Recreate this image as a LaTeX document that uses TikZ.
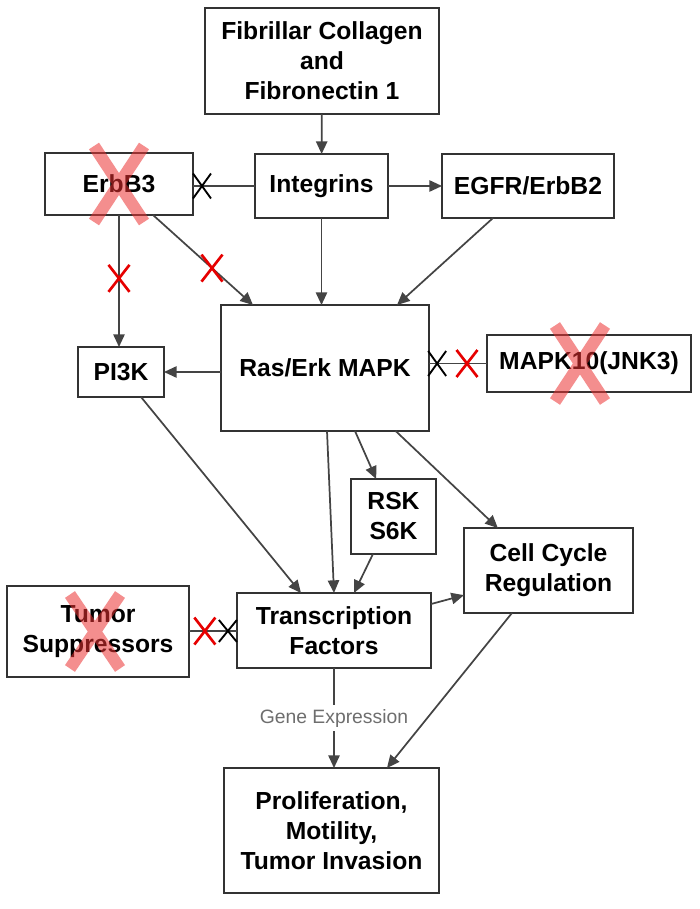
\documentclass[tikz,border=0pt]{standalone}
\usepackage{fontspec}
\setmainfont{Liberation Sans}
\usetikzlibrary{arrows.meta,calc}

\tikzset{every picture/.style={line width=0.75pt}}
\tikzset{
  box/.style={draw={rgb, 255:red, 51; green, 51; blue, 51 }, line width=1.5pt, fill=white, inner sep=0pt, outer sep=0pt, align=center, font=\fontsize{18.5}{22.5}\selectfont\bfseries},
  arr/.style={draw={rgb, 255:red, 68; green, 68; blue, 68 }, line width=1.3pt, -{Triangle[length=9.5pt,width=8.5pt]}},
  inh/.style={draw={rgb, 255:red, 68; green, 68; blue, 68 }, line width=1.3pt},
  redx/.style={color={rgb, 255:red, 230; green, 0; blue, 0 }, line width=2pt},
  blackx/.style={color=black, line width=1.4pt},
  bigx/.style={color={rgb, 255:red, 236; green, 50; blue, 50 }, draw opacity=0.55, line width=9pt},
  gexp/.style={fill=white, inner sep=3pt, text={rgb, 255:red, 110; green, 110; blue, 110 }, font=\fontsize{14.5}{16}\selectfont}
}
\newcommand{\crossat}[4]{\draw[#1, shift={(#2)}] (-#3,-#4) -- (#3,#4) (-#3,#4) -- (#3,-#4);}

\begin{document}
\begin{tikzpicture}[x=0.75pt,y=0.75pt,yscale=-1,xscale=1]
\useasboundingbox (0,0) rectangle (699,909);

% Boxes
\node[box, minimum width=175.5pt, minimum height=79.5pt] (fib) at (322,61) {Fibrillar Collagen\\and\\Fibronectin 1};
\node[box, minimum width=111pt, minimum height=46.5pt] (erbb3) at (119,184) {ErbB3};
\node[box, minimum width=99.75pt, minimum height=48pt] (int) at (321.5,186) {Integrins};
\node[box, minimum width=129pt, minimum height=48pt] (egfr) at (528,186) {EGFR/ErbB2};
\node[box, minimum width=156pt, minimum height=94.5pt] (ras) at (325,368) {Ras/Erk MAPK};
\node[box, minimum width=64.5pt, minimum height=37.5pt] (pi3k) at (121,372) {PI3K};
\node[box, minimum width=153pt, minimum height=42.75pt] (mapk) at (589,363.5) {MAPK10(JNK3)};
\node[box, minimum width=63.75pt, minimum height=56.25pt] (rsk) at (393.5,516.5) {RSK\\S6K};
\node[box, minimum width=126.75pt, minimum height=63.75pt] (cc) at (548.5,570.5) {Cell Cycle\\Regulation};
\node[box, minimum width=136.5pt, minimum height=68.25pt] (tumor) at (98,631.5) {Tumor\\Suppressors};
\node[box, minimum width=145.5pt, minimum height=56.25pt] (tf) at (334,630.5) {Transcription\\Factors};
\node[box, minimum width=161.25pt, minimum height=93.75pt] (prolif) at (331.5,830.5) {Proliferation,\\Motility,\\Tumor Invasion};

% Activating links
\draw[arr] (fib) -- (int);
\draw[arr] (int) -- (egfr);
\draw[arr] (int.south) -- (int.south |- ras.north);
\draw[arr] ([xshift=-26.25pt]egfr.south) -- ([xshift=54pt]ras.north);
\draw[arr] ([xshift=25.5pt]erbb3.south) -- coordinate[pos=0.59] (rx2) ([xshift=-54pt]ras.north);
\draw[arr] (erbb3.south) -- coordinate[pos=0.48] (rx1) (erbb3.south |- pi3k.north);
\draw[arr] (ras.west |- pi3k.east) -- (pi3k.east);
\draw[arr] ([xshift=15pt]pi3k.south) -- ([xshift=-24.75pt]tf.north);
\draw[arr] ([xshift=1.5pt]ras.south) -- (tf.north);
\draw[arr] ([xshift=22.5pt]ras.south) -- ([xshift=-13pt]rsk.north);
\draw[arr] ([xshift=53pt]ras.south) -- ([xshift=-38pt]cc.north);
\draw[arr] ([xshift=-15.4pt]rsk.south) -- ([xshift=15pt]tf.north);
\draw[arr] ($(tf.north east)!0.147!(tf.south east)$) -- ($(cc.north west)!0.79!(cc.south west)$);
\draw[arr] ([xshift=-27.4pt]cc.south) -- ([xshift=41.6pt]prolif.north);
\draw[arr] (tf.south) -- node[gexp] (gene) {Gene Expression} (tf.south |- prolif.north);

% Inhibiting links
\draw[inh] (int.west) -- coordinate[pos=0.855] (bx1) (erbb3.east |- int.west);
\draw[inh] (mapk.west) -- coordinate[pos=0.345] (rx3) coordinate[pos=0.86] (bx2) (ras.east |- mapk.west);
\draw[inh] (tumor) -- coordinate[pos=0.33] (rx4) coordinate[pos=0.81] (bx3) (tf);

% Small crosses
\crossat{blackx}{bx1}{9}{12.5}
\crossat{blackx}{bx2}{9}{12.5}
\crossat{blackx}{bx3}{9}{11}
\crossat{redx}{rx1}{10.5}{13.5}
\crossat{redx}{rx2}{10.5}{13.5}
\crossat{redx}{rx3}{10.5}{13.5}
\crossat{redx}{rx4}{10.5}{13.5}

% Knocked out nodes
\draw[bigx, shift={(erbb3)}] (-25,-38) -- (25,38) (-25,38) -- (25,-38);
\draw[bigx, shift={(mapk)}] (-34,-38) -- (16,38) (-34,38) -- (16,-38);
\draw[bigx, shift={(tumor)}] (-28,-37) -- (22,37) (-28,37) -- (22,-37);
\end{tikzpicture}
\end{document}
